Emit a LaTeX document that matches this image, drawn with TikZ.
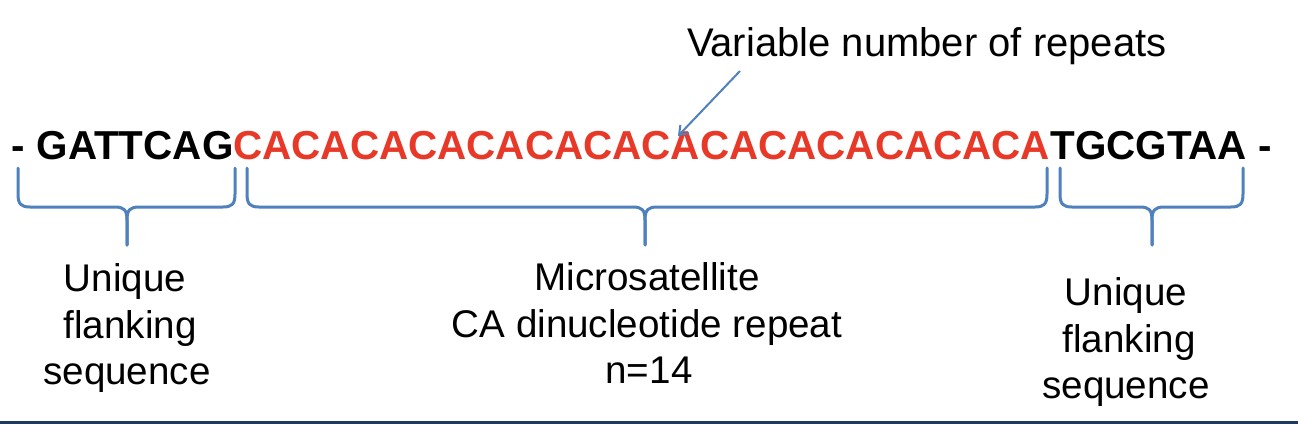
\documentclass[tikz,border=0pt]{standalone}
\usepackage{fontspec}
\setmainfont{Liberation Sans}
\usetikzlibrary{arrows.meta}
\definecolor{seqred}{RGB}{232,56,40}
\definecolor{braceblue}{RGB}{79,129,189}
\definecolor{navyline}{RGB}{31,56,100}
\tikzset{
  seqtext/.style={inner sep=0pt, outer sep=0pt, anchor=base west, font=\fontsize{40.4}{48}\selectfont\bfseries},
  labtext/.style={inner sep=0pt, outer sep=0pt, anchor=base, font=\fontsize{38.6}{46}\selectfont},
  bracestyle/.style={draw=braceblue, line width=3pt, line cap=round, line join=round},
  pointer/.style={draw=braceblue, line width=2pt, -{Straight Barb[length=8pt,width=12pt,line width=2pt]}}
}
\newcommand{\mybrace}[4]{% x0, xm, x1, name prefix
  \coordinate (#4-l) at (#1,-168);
  \coordinate (#4-m) at (#2,-245);
  \coordinate (#4-r) at (#3,-168);
  \draw[bracestyle] (#4-l) -- (#1,-194) .. controls (#1,-204) and (#1+3,-207) .. (#1+12,-207)
     -- (#2-12,-207) .. controls (#2-3,-207) and (#2,-210) .. (#2,-220) -- (#4-m);
  \draw[bracestyle] (#4-m) -- (#2,-220) .. controls (#2,-210) and (#2+3,-207) .. (#2+12,-207)
     -- (#3-12,-207) .. controls (#3-3,-207) and (#3,-204) .. (#3,-194) -- (#4-r);
}
\begin{document}
\begin{tikzpicture}[x=1pt,y=1pt]
\useasboundingbox (0,0) rectangle (1298,-424);
\fill[white] (0,0) rectangle (1298,-424);

% sequence
\node[seqtext] (left) at (12,-159) {- GATTCAG};
\node[seqtext, text=seqred] (repeat) at (left.base east) {CACACACACACACACACACACACACACA};
\node[seqtext] (right) at (repeat.base east) {TGCGTAA -};

% annotation
\node[labtext, anchor=base west, font=\fontsize{40}{48}\selectfont] (var) at (687,-56) {Variable number of repeats};
\coordinate (arrowstart) at (740,-71);
\coordinate (arrowtip) at (678,-136);
\draw[pointer] (arrowstart) -- (arrowtip);

% braces
\mybrace{18}{127}{235}{b1}
\mybrace{247}{645}{1047}{b2}
\mybrace{1060}{1152}{1243}{b3}

% labels
\node[labtext] (l1a) at (125,-291) {Unique};
\node[labtext] (l1b) at (130,-338) {flanking};
\node[labtext] (l1c) at (127,-384) {sequence};

\node[labtext] (l2a) at (647,-290) {Microsatellite};
\node[labtext] (l2b) at (647,-337) {CA dinucleotide repeat};
\node[labtext] (l2c) at (649,-383) {n=14};

\node[labtext] (l3a) at (1126,-305) {Unique};
\node[labtext] (l3b) at (1129,-352) {flanking};
\node[labtext] (l3c) at (1126,-398) {sequence};

% bottom rule
\draw[navyline, line width=2.5pt] (0,-422.5) -- (1298,-422.5);
\end{tikzpicture}
\end{document}
